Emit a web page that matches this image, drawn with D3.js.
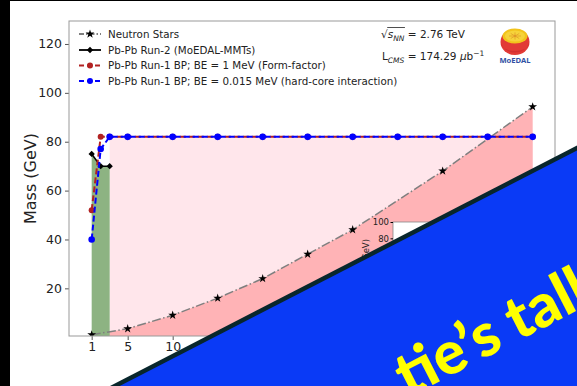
<!DOCTYPE html>
<html>
<head>
<meta charset="utf-8">
<script src="https://cdn.jsdelivr.net/npm/d3@7"></script>
<style>
  html, body { margin: 0; padding: 0; background: #000; }
  svg { display: block; }
</style>
</head>
<body>
<svg id="chart" width="577" height="386"></svg>
<script>
// ---- data ----
const nsMass = [1, 5, 10, 15, 20, 25, 30, 40, 50];
const nsValues = [1, 3.5, 9, 16, 24, 34, 44, 68, 94.3];

const run2Mass = [1, 2, 3];
const run2Values = [75, 70, 70];

const run1Mass = [1, 2, 3, 5, 10, 15, 20, 25, 30, 35, 40, 45, 50];
const run1FormFactor = [52, 82, 82, 82, 82, 82, 82, 82, 82, 82, 82, 82, 82];
const run1HardCore = [40, 77, 82, 82, 82, 82, 82, 82, 82, 82, 82, 82, 82];

const yTicks = [20, 40, 60, 80, 100, 120];
const xTicks = [1, 5, 10, 15, 20, 25, 30, 35, 40, 45, 50];
const insetTicks = [80, 100];

const legendLabels = [
  "Neutron Stars",
  "Pb-Pb Run-2 (MoEDAL-MMTs)",
  "Pb-Pb Run-1 BP; BE = 1 MeV (Form-factor)",
  "Pb-Pb Run-1 BP; BE = 0.015 MeV (hard-core interaction)"
];

// ---- setup ----
const svg = d3.select("#chart");
const W = 577, H = 386;
const font = "'DejaVu Sans', sans-serif";

svg.append("rect").attr("width", W).attr("height", H).attr("fill", "#000");
svg.append("rect").attr("x", 10).attr("y", 1).attr("width", W - 10).attr("height", H - 1).attr("fill", "#fff");

const plot = { left: 69, right: 555, top: 21, bottom: 336 };
const x = d3.scaleLinear().domain([-1.52, 52.48]).range([plot.left, plot.right]);
const y = d3.scaleLinear().domain([0.5, 129.4]).range([plot.bottom, plot.top]);

svg.append("defs").append("clipPath").attr("id", "plotClip")
  .append("rect").attr("x", plot.left).attr("y", plot.top)
  .attr("width", plot.right - plot.left).attr("height", plot.bottom - plot.top);

const g = svg.append("g").attr("clip-path", "url(#plotClip)");

const zip = (xs, ys) => xs.map((v, i) => [v, ys[i]]);
const nsPts = zip(nsMass, nsValues);
const run2Pts = zip(run2Mass, run2Values);
const ffPts = zip(run1Mass, run1FormFactor);
const hcPts = zip(run1Mass, run1HardCore);

// light pink band: allowed region up to the Run-1 limit
const bandStart = run2Mass[run2Mass.length - 1];
const limitPts = ffPts.filter(d => d[0] >= bandStart);
g.append("path")
  .datum(limitPts)
  .attr("fill", "#ffe6eb")
  .attr("d", d3.area().x(d => x(d[0])).y0(y(0.5)).y1(d => y(d[1])));

// darker pink under the neutron star curve
g.append("path")
  .datum(nsPts)
  .attr("fill", "#ffb3b6")
  .attr("d", d3.area().x(d => x(d[0])).y0(y(0.5)).y1(d => y(d[1])));

// green region under the Run-2 limits
g.append("path")
  .datum(run2Pts)
  .attr("fill", "#8db382")
  .attr("d", d3.area().x(d => x(d[0])).y0(y(0.5)).y1(d => y(d[1])));

const line = d3.line().x(d => x(d[0])).y(d => y(d[1]));

// neutron stars
g.append("path").datum(nsPts)
  .attr("fill", "none").attr("stroke", "#7f7f7f").attr("stroke-width", 1.5)
  .attr("stroke-dasharray", "9,2.5,1.5,2.5").attr("d", line);
const star = d3.symbol().type(d3.symbolStar).size(24);
g.selectAll(".ns").data(nsPts).join("path")
  .attr("transform", d => `translate(${x(d[0])},${y(d[1])})`)
  .attr("d", star).attr("fill", "#000");

// Run-2
g.append("path").datum(run2Pts)
  .attr("fill", "none").attr("stroke", "#000").attr("stroke-width", 1.5).attr("d", line);
const diamond = d3.symbol().type(d3.symbolSquare).size(20);
g.selectAll(".r2").data(run2Pts).join("path")
  .attr("transform", d => `translate(${x(d[0])},${y(d[1])}) rotate(45)`)
  .attr("d", diamond).attr("fill", "#000");

// Run-1 form factor
g.append("path").datum(ffPts)
  .attr("fill", "none").attr("stroke", "#b22222").attr("stroke-width", 2)
  .attr("stroke-dasharray", "6,3").attr("d", line);
g.selectAll(".ff").data(ffPts).join("circle")
  .attr("cx", d => x(d[0])).attr("cy", d => y(d[1])).attr("r", 3).attr("fill", "#b22222");

// Run-1 hard core
g.append("path").datum(hcPts)
  .attr("fill", "none").attr("stroke", "#0000ff").attr("stroke-width", 2)
  .attr("stroke-dasharray", "6,3").attr("d", line);
g.selectAll(".hc").data(hcPts).join("circle")
  .attr("cx", d => x(d[0])).attr("cy", d => y(d[1])).attr("r", 3.3).attr("fill", "#0000ff");

// ---- axes ----
const yAxis = svg.append("g").attr("transform", `translate(${plot.left},0)`)
  .call(d3.axisLeft(y).tickValues(yTicks).tickSize(4).tickPadding(3));
const xAxis = svg.append("g").attr("transform", `translate(0,${plot.bottom})`)
  .call(d3.axisBottom(x).tickValues(xTicks).tickSize(4).tickPadding(2));
[yAxis, xAxis].forEach(a => {
  a.select(".domain").remove();
  a.selectAll(".tick line").attr("stroke", "#555");
  a.selectAll(".tick text").attr("font-family", font).attr("font-size", 12.5).attr("fill", "#222");
});
svg.append("rect")
  .attr("x", plot.left).attr("y", plot.top)
  .attr("width", plot.right - plot.left).attr("height", plot.bottom - plot.top)
  .attr("fill", "none").attr("stroke", "#999").attr("stroke-width", 1);

svg.append("text")
  .attr("transform", `translate(36,${(plot.top + plot.bottom) / 2}) rotate(-90)`)
  .attr("text-anchor", "middle")
  .attr("font-family", font).attr("font-size", 16).attr("fill", "#222")
  .text("Mass (GeV)");

// ---- legend ----
const legend = svg.append("g");
const legendY = [34, 50, 65.5, 81];
const legendStyles = [
  { stroke: "#7f7f7f", dash: "5,2,1.5,2", marker: "star", color: "#000" },
  { stroke: "#000", dash: null, marker: "diamond", color: "#000" },
  { stroke: "#b22222", dash: "5,3", marker: "circle", color: "#b22222" },
  { stroke: "#0000ff", dash: "5,3", marker: "circle", color: "#0000ff" }
];
legendLabels.forEach((label, i) => {
  const st = legendStyles[i];
  const ly = legendY[i];
  legend.append("line").attr("x1", 79).attr("x2", 101).attr("y1", ly).attr("y2", ly)
    .attr("stroke", st.stroke).attr("stroke-width", 1.8).attr("stroke-dasharray", st.dash);
  if (st.marker === "star") {
    legend.append("path").attr("transform", `translate(90,${ly})`).attr("d", star).attr("fill", st.color);
  } else if (st.marker === "diamond") {
    legend.append("path").attr("transform", `translate(90,${ly}) rotate(45)`).attr("d", diamond).attr("fill", st.color);
  } else {
    legend.append("circle").attr("cx", 90).attr("cy", ly).attr("r", 3).attr("fill", st.color);
  }
  legend.append("text").attr("x", 108).attr("y", ly).attr("dy", "0.36em")
    .attr("font-family", font).attr("font-size", 10.3).attr("fill", "#222").text(label);
});

// ---- collision annotations ----
const ann = svg.append("g").attr("font-family", font).attr("font-size", 10.5).attr("fill", "#222");
const t1 = ann.append("text").attr("x", 381).attr("y", 38);
t1.append("tspan").text("\u221A");
t1.append("tspan").attr("font-style", "italic").text("s");
t1.append("tspan").attr("font-style", "italic").attr("font-size", 7.5).attr("dy", 2.5).text("NN");
t1.append("tspan").attr("dy", -2.5).text(" = 2.76 TeV");
{
  const node = t1.node();
  const x0 = node.getStartPositionOfChar(1).x;
  const x1 = node.getEndPositionOfChar(3).x;
  ann.append("line").attr("x1", x0 - 0.5).attr("x2", x1 + 0.5).attr("y1", 27.5).attr("y2", 27.5)
    .attr("stroke", "#222").attr("stroke-width", 0.8);
}
const t2 = ann.append("text").attr("x", 382).attr("y", 60);
t2.append("tspan").text("L");
t2.append("tspan").attr("font-style", "italic").attr("font-size", 7.5).attr("dy", 2.5).text("CMS");
t2.append("tspan").attr("dy", -2.5).text(" = 174.29 ");
t2.append("tspan").attr("font-style", "italic").text("\u03BC");
t2.append("tspan").text("b");
t2.append("tspan").attr("font-size", 7.5).attr("dy", -4.5).text("\u22121");

// ---- MoEDAL badge ----
const logo = svg.append("g").attr("transform", "translate(515,41)");
logo.append("ellipse").attr("rx", 14.5).attr("ry", 13).attr("cy", 1).attr("fill", "#e23a36");
logo.append("path").attr("d", "M -14 2 A 14.5 13 0 0 0 14 2 A 14 8 0 0 1 -14 2 Z").attr("fill", "#c9282f").attr("opacity", 0.6);
logo.append("ellipse").attr("rx", 12.5).attr("ry", 7.5).attr("cy", -5).attr("fill", "#f2c31b");
logo.append("ellipse").attr("rx", 10).attr("ry", 5.5).attr("cy", -5).attr("fill", "#f6d33a");
for (let k = 0; k < 8; k++) {
  const a = k * Math.PI / 4;
  logo.append("line").attr("x1", 0).attr("y1", -5)
    .attr("x2", 6 * Math.cos(a)).attr("y2", -5 + 3.6 * Math.sin(a))
    .attr("stroke", "#e0982a").attr("stroke-width", 0.7);
}
logo.append("circle").attr("cy", -5).attr("r", 1.2).attr("fill", "#e0982a");
logo.append("text").attr("y", 21.5).attr("text-anchor", "middle")
  .attr("font-family", "'Open Sans', sans-serif").attr("font-weight", 700).attr("font-size", 7.6)
  .attr("fill", "#2f4fa3").text("MoEDAL");

// ---- inset axes ----
const inset = { left: 393, top: 222, width: 130, height: 100 };
const yIn = d3.scaleLinear().domain([100, 40]).range([inset.top, inset.top + 49]);
svg.append("rect").attr("x", inset.left).attr("y", inset.top)
  .attr("width", inset.width).attr("height", inset.height)
  .attr("fill", "#fff").attr("stroke", "#888").attr("stroke-width", 0.8);
const inAxis = svg.append("g").attr("transform", `translate(${inset.left},0)`)
  .call(d3.axisLeft(yIn).tickValues(insetTicks).tickSize(2.5).tickPadding(1.5));
inAxis.select(".domain").remove();
inAxis.selectAll(".tick text").attr("font-family", font).attr("font-size", 8.5).attr("fill", "#222");
svg.append("text")
  .attr("transform", "translate(369,239) rotate(-90)")
  .attr("text-anchor", "end")
  .attr("font-family", font).attr("font-size", 8.5).attr("fill", "#222")
  .text("Mass (GeV)");

// ---- overlay banner ----
const slope = -0.515;
const edgeY = xp => 386 + slope * (xp - 110);
svg.append("polygon")
  .attr("points", [[80, edgeY(80)], [620, edgeY(620)], [620, 420], [80, 420]].map(p => p.join(",")).join(" "))
  .attr("fill", "#08262c");
svg.append("polygon")
  .attr("points", [[80, edgeY(80) + 5], [620, edgeY(620) + 5], [620, 420], [80, 420]].map(p => p.join(",")).join(" "))
  .attr("fill", "#0a3af6");

const angle = Math.atan(slope) * 180 / Math.PI;
const banner = svg.append("text")
  .attr("font-family", "Lato, 'Open Sans', sans-serif").attr("font-weight", 900)
  .attr("font-size", 60).attr("fill", "#ffff00")
  .text("tie\u2019s talk");
{
  const lead = banner.node().getSubStringLength(0, 6);
  const rad = Math.atan(slope);
  const px = 518 - lead * Math.cos(rad);
  const py = 341 - lead * Math.sin(rad);
  banner.attr("transform", `translate(${px},${py}) rotate(${angle})`);
}
</script>
</body>
</html>
